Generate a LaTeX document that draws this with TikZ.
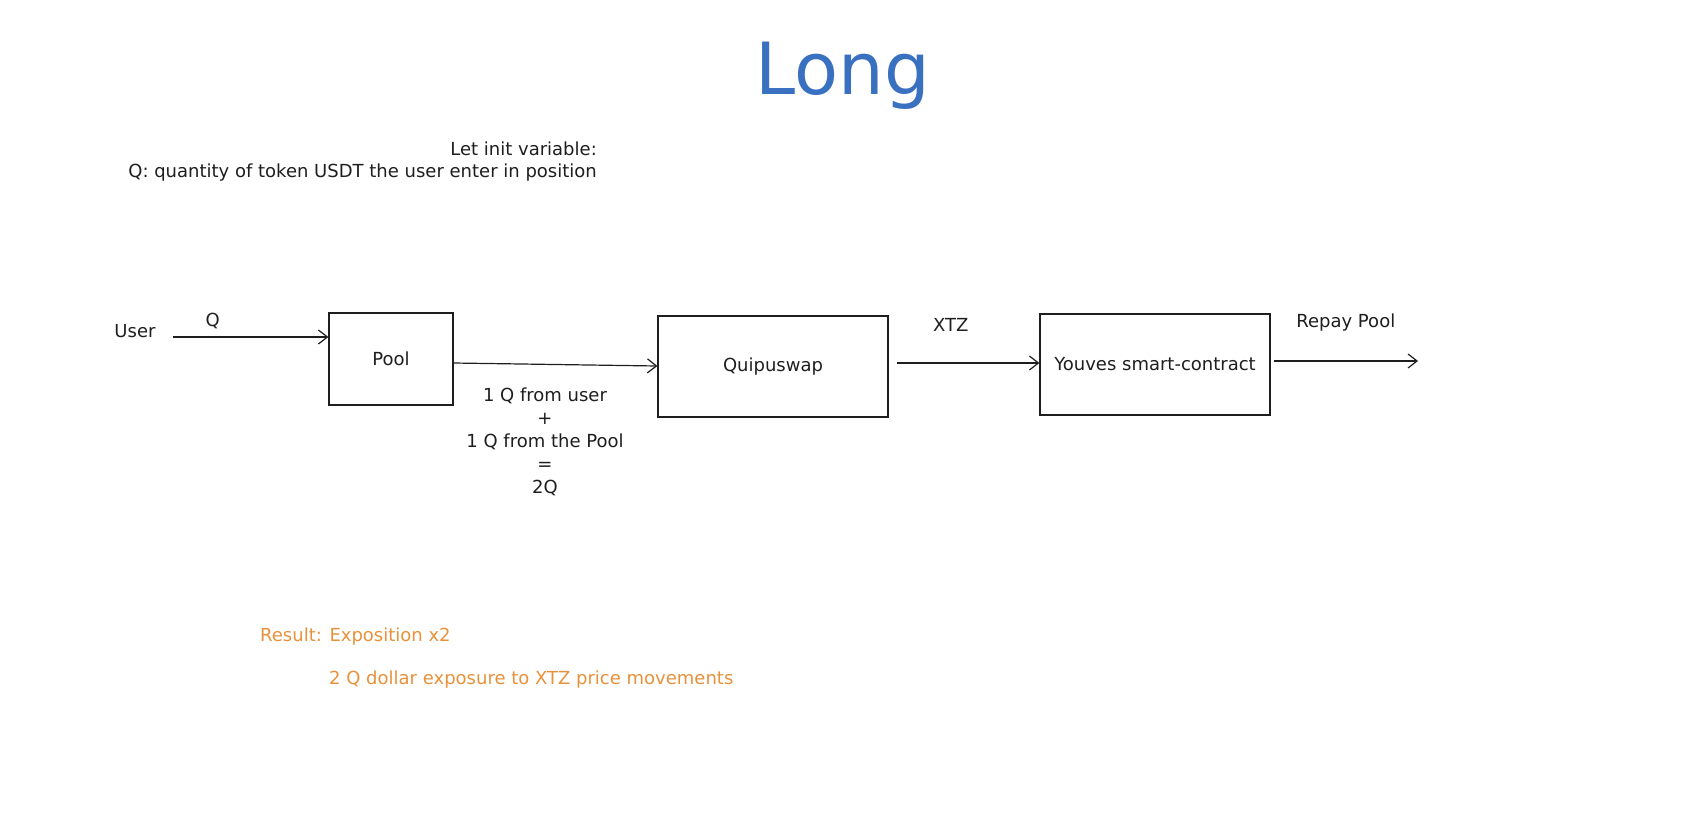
\documentclass[tikz,border=0pt]{standalone}
\usepackage{fontspec}
\setmainfont{DejaVu Sans}
\usetikzlibrary{arrows.meta}
\definecolor{titleblue}{HTML}{3A70C0}
\definecolor{resorange}{HTML}{E8913A}
\definecolor{ink}{HTML}{1E1E1E}
\tikzset{
  box/.style={draw=ink, line width=1.2pt, minimum width=0pt, inner sep=0pt},
  lbl/.style={text=ink, font=\fontsize{18}{21}\selectfont, inner sep=0pt},
  flow/.style={draw=ink, line width=1.2pt, -{Straight Barb[length=9pt,width=14pt,line width=1.2pt]}},
  note/.style={text=resorange, font=\fontsize{18}{21}\selectfont, inner sep=0pt, anchor=west},
}
\begin{document}
\begin{tikzpicture}[x=1pt,y=-1pt]
\useasboundingbox (0,0) rectangle (1696,828);
\node[text=titleblue, font=\fontsize{72}{90}\selectfont] (title) at (843,76) {Long};
\node[lbl, align=right, anchor=north east] (vars) at (597,142) {Let init variable:\\[1pt]Q: quantity of token USDT the user enter in position};
\node[lbl] (user) at (135,331) {User};
\coordinate (ustart) at (173,337);
\node[box, minimum width=124pt, minimum height=92pt] (pool) at (391,359) {};
\node[lbl] at (pool) {Pool};
\node[box, minimum width=230pt, minimum height=101pt] (quipu) at (773,366.5) {};
\node[lbl] at (quipu) {Quipuswap};
\node[box, minimum width=230pt, minimum height=101pt] (youves) at (1155,364.5) {};
\node[lbl] at (youves) {Youves smart-contract};
\coordinate (rend) at (1418,361);
\draw[flow] (ustart) -- (pool.west |- ustart) node[lbl, midway, above=8pt, xshift=-38pt] (qlbl) {Q};
\draw[flow] (pool.east |- 0,363) -- (quipu.west |- 0,366);
\draw[flow] (quipu.east |- 0,363) ++(8,0) -- (youves.west |- 0,363) node[lbl, pos=0.38, above=31pt] (xtz) {XTZ};
\draw[flow] (youves.east |- rend) ++(3,0) -- (rend) node[lbl, pos=0.5, above=29pt] (repay) {Repay Pool};
\node[lbl, align=center, anchor=north, font=\fontsize{18}{22.8}\selectfont] (sum) at (545,388) {1 Q from user\\+\\1 Q from the Pool\\=\\2Q};
\node[note] (res) at (260,637) {Result: Exposition x2};
\node[note] (exp) at (329,680) {2 Q dollar exposure to XTZ price movements};
\end{tikzpicture}
\end{document}
